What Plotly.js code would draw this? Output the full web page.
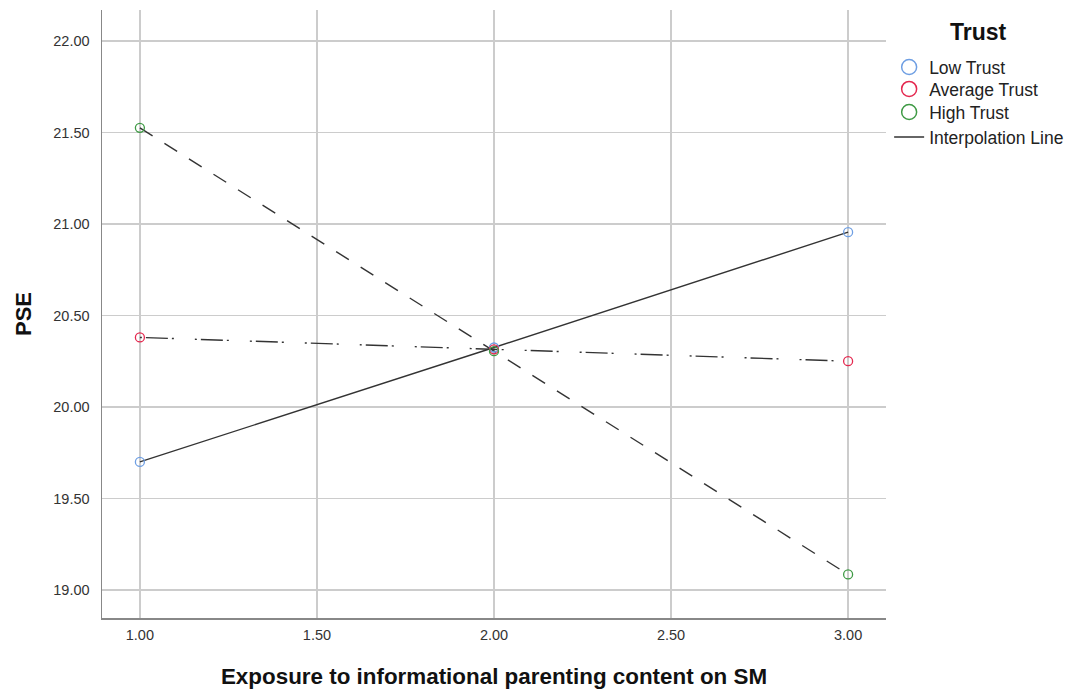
<!DOCTYPE html>
<html>
<head>
<meta charset="utf-8">
<script src="https://cdn.plot.ly/plotly-3.0.1.min.js"></script>
<style>html,body{margin:0;padding:0;background:#fff;}#chart{width:1069px;height:692px;}</style>
</head>
<body>
<div id="chart"></div>
<script>
const exposure = [1, 2, 3];
const seriesNames = ["Low Trust", "Average Trust", "High Trust"];
const lowTrust = [19.70, 20.325, 20.955];
const averageTrust = [20.38, 20.315, 20.25];
const highTrust = [21.525, 20.305, 19.085];
const xTicks = [1, 1.5, 2, 2.5, 3];
const yTicks = [19, 19.5, 20, 20.5, 21, 21.5, 22];
const legendTitle = "Trust";
const lineLegendName = "Interpolation Line";

const seriesValues = [lowTrust, averageTrust, highTrust];
const markerColors = ["#6f9fe3", "#e4284f", "#3f9a45"];
const dashes = ["solid", "2px,4px,22px,4px,2px,21px", "15px,14px"];
const FONT = "Liberation Sans, Arial, sans-serif";
const legendIds = ["legend", "legend2", "legend3", "legend4"];
const legendY = [0.906, 0.870, 0.832, 0.791];

const traces = [];
seriesValues.forEach((vals, i) => {
  traces.push({
    x: exposure, y: vals, type: "scatter", mode: "lines",
    line: {color: "#333333", width: 1.4, dash: dashes[i]},
    showlegend: false, hoverinfo: "skip"
  });
});
seriesValues.forEach((vals, i) => {
  traces.push({
    x: exposure, y: vals, type: "scatter", mode: "markers",
    name: seriesNames[i],
    marker: {symbol: "circle-open", size: 9, color: markerColors[i], line: {width: 1.3, color: markerColors[i]}},
    showlegend: false
  });
});
seriesValues.forEach((vals, i) => {
  traces.push({
    x: [null], y: [null], type: "scatter", mode: "markers",
    name: seriesNames[i], legend: legendIds[i],
    marker: {symbol: "circle-open", size: 15, color: markerColors[i], line: {width: 1.5, color: markerColors[i]}},
    showlegend: true
  });
});
traces.push({
  x: [null], y: [null], type: "scatter", mode: "lines",
  name: lineLegendName, legend: legendIds[3], line: {color: "#333333", width: 1.4}, showlegend: true
});

const layout = {
  width: 1069, height: 692,
  paper_bgcolor: "#ffffff", plot_bgcolor: "#ffffff",
  margin: {l: 102, r: 183, t: 10, b: 74, autoexpand: false},
  font: {family: FONT, color: "#222"},
  xaxis: {
    range: [0.893, 3.107], tickvals: xTicks,
    ticktext: xTicks.map(v => v.toFixed(2)),
    showgrid: true, gridcolor: "#cccccc", gridwidth: 1.5,
    zeroline: false, showline: true, linecolor: "#888888", linewidth: 1.5,
    ticks: "", ticklabelstandoff: 3, tickfont: {size: 14.5, color: "#333"},
    title: {text: "Exposure to informational parenting content on SM", font: {size: 22.4, color: "#111", family: FONT, weight: "bold"}, standoff: 26}
  },
  yaxis: {
    range: [18.847, 22.169], tickvals: yTicks,
    ticktext: yTicks.map(v => v.toFixed(2)),
    showgrid: true, gridcolor: "#cccccc", gridwidth: 1.5,
    zeroline: false, showline: true, linecolor: "#888888", linewidth: 1.5,
    ticks: "", ticklabelstandoff: 8, tickfont: {size: 14.5, color: "#333"},
    title: {text: "PSE", font: {size: 22, color: "#111", family: FONT, weight: "bold"}, standoff: 15}
  },
  annotations: [{
    text: legendTitle, xref: "paper", yref: "paper", x: 1.118, y: 1.0, yshift: -22,
    xanchor: "center", yanchor: "middle", showarrow: false,
    font: {size: 23, color: "#111", family: FONT, weight: "bold"}
  }],
  showlegend: true
};
legendIds.forEach((id, i) => {
  layout[id] = {
    x: 1.004, xanchor: "left", xref: "paper", y: legendY[i], yanchor: "middle",
    font: {size: 17.5, color: "#222"},
    itemwidth: 30, bgcolor: "rgba(0,0,0,0)"
  };
});

Plotly.newPlot("chart", traces, layout, {displayModeBar: false, staticPlot: true});
</script>
</body>
</html>
